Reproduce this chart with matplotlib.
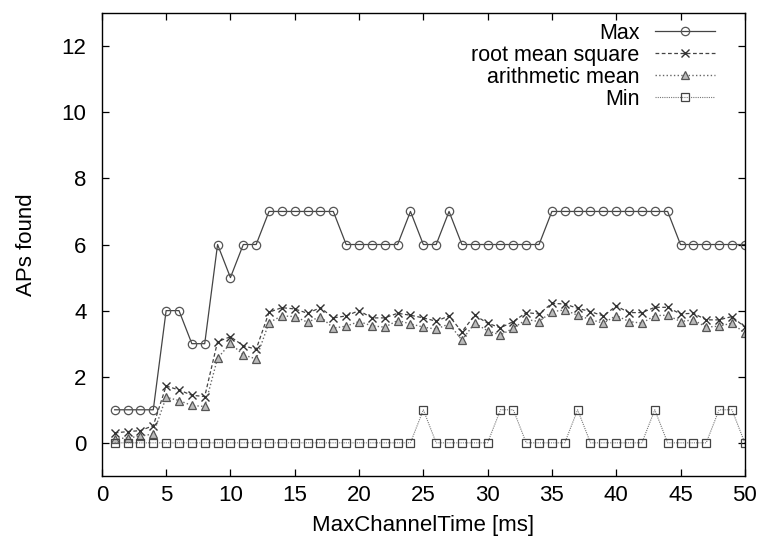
import numpy as np
import matplotlib
matplotlib.use("Agg")
import matplotlib.pyplot as plt

plt.rcParams['font.family'] = ['Liberation Sans', 'DejaVu Sans']

# x axis: MaxChannelTime in ms
t = list(range(1, 51))

ap_max = [1, 1, 1, 1, 4, 4, 3, 3, 6, 5,
          6, 6, 7, 7, 7, 7, 7, 7, 6, 6,
          6, 6, 6, 7, 6, 6, 7, 6, 6, 6,
          6, 6, 6, 6, 7, 7, 7, 7, 7, 7,
          7, 7, 7, 7, 6, 6, 6, 6, 6, 6]

ap_rms = [0.30, 0.34, 0.37, 0.52, 1.72, 1.60, 1.44, 1.40, 3.06, 3.21,
          2.94, 2.83, 3.95, 4.09, 4.05, 3.92, 4.09, 3.78, 3.84, 4.00,
          3.78, 3.78, 3.92, 3.86, 3.78, 3.68, 3.84, 3.36, 3.86, 3.62,
          3.48, 3.67, 3.94, 3.90, 4.22, 4.20, 4.07, 3.97, 3.84, 4.14,
          3.94, 3.94, 4.10, 4.10, 3.90, 3.92, 3.72, 3.72, 3.82, 3.50]

ap_mean = [0.12, 0.15, 0.20, 0.27, 1.38, 1.28, 1.13, 1.10, 2.56, 3.01,
           2.66, 2.54, 3.64, 3.84, 3.82, 3.65, 3.82, 3.47, 3.53, 3.67,
           3.54, 3.50, 3.70, 3.60, 3.50, 3.44, 3.60, 3.11, 3.62, 3.39,
           3.26, 3.47, 3.73, 3.67, 3.97, 4.02, 3.86, 3.73, 3.62, 3.85,
           3.67, 3.62, 3.85, 3.86, 3.67, 3.72, 3.50, 3.53, 3.62, 3.32]

ap_min = [0] * 50
for i in [25, 31, 32, 37, 43, 48, 49]:
    ap_min[i - 1] = 1

fig = plt.figure(figsize=(7.6, 5.47), dpi=100)
ax = fig.add_axes([0.134, 0.130, 0.846, 0.846])

lc = '#444444'
ax.plot(t, ap_max, '-', color=lc, lw=0.9, marker='o', ms=6, mfc='none',
        mec='#555555', mew=0.9, label='Max')
ax.plot(t, ap_rms, '--', color=lc, lw=0.9, dashes=(3, 2), marker='x', ms=6,
        mec='#333333', mew=1.0, label='root mean square')
ax.plot(t, ap_mean, ':', color='#666666', lw=1.0, marker='^', ms=5.5,
        mfc='#bbbbbb', mec='#555555', mew=0.9, label='arithmetic mean')
ax.plot(t, ap_min, ':', color='#777777', lw=0.8, dashes=(1, 1), marker='s',
        ms=5.5, mfc='none', mec='#444444', mew=0.9, label='Min')

ax.set_xlim(0, 50)
ax.set_ylim(-1, 13)
ax.set_xticks(range(0, 51, 5))
ax.set_yticks(range(0, 13, 2))
ax.tick_params(direction='in', top=True, right=True, length=5, width=0.9,
               labelsize=16)
ax.tick_params(axis='x', pad=6.5)
ax.tick_params(axis='y', pad=11)
for s in ax.spines.values():
    s.set_linewidth(1.0)

ax.set_xlabel('MaxChannelTime [ms]', fontsize=16, labelpad=6.5)
ax.set_ylabel('APs found', fontsize=16, labelpad=18)

ax.legend(loc='upper right', frameon=False, markerfirst=False, fontsize=15.5,
          handlelength=2.8, labelspacing=0.05, borderaxespad=0.2,
          handletextpad=0.7, bbox_to_anchor=(0.9735, 1.007))

fig.savefig('out.png', dpi=100)
